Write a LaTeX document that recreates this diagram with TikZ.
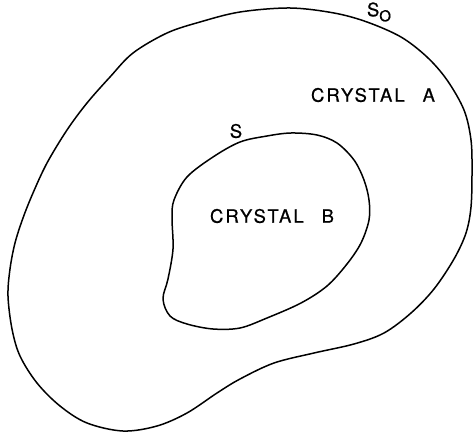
\documentclass[tikz,border=0pt]{standalone}
\usepackage{fontspec}
\setmainfont{TeX Gyre Heros}[LetterSpace=11,WordSpace=2.5,FakeBold=0.6]
\begin{document}
\begin{tikzpicture}[x=1pt,y=-1pt,
  boundary/.style={line width=1.5pt, line join=round},
  lbl/.style={font=\fontsize{18.5}{18.5}\selectfont, inner sep=0pt}]
\useasboundingbox (0,0) rectangle (474,436);
% outer surface S_O
\draw[boundary] plot[smooth cycle, tension=0.55] coordinates {
 (290,8) (334,13) (367,22) (401,37) (427,57) (447,80) (464,110) (471,140)
 (472,172) (471,207) (466,233) (454,259) (434,289) (411,313) (384,333)
 (354,344) (314,353) (274,363) (240,379) (217,393) (187,413) (157,426)
 (123,431) (87,423) (60,406) (37,383) (20,356) (12,329) (8,296) (10,269)
 (15,243) (23,218) (33,193) (47,163) (67,130) (87,103) (110,77) (133,53)
 (167,33) (200,22) (240,12)};
% inner surface S
\draw[boundary] plot[smooth cycle, tension=0.55] coordinates {
 (291,133) (317,135) (337,143) (354,160) (364,180) (369,200) (369,220)
 (361,243) (347,264) (327,286) (301,303) (267,318) (240,328) (213,329)
 (187,324) (170,316) (163,299) (168,279) (173,249) (172,218) (174,200)
 (187,177) (213,157) (240,142) (267,136)};
\node[lbl] (so) at (379,12) {S\raisebox{-5pt}{\fontsize{15}{15}\selectfont O}};
\node[lbl] (s) at (236,131) {S};
\node[lbl] (ca) at (373,95) {CRYSTAL A};
\node[lbl] (cb) at (272,216) {CRYSTAL B};
\end{tikzpicture}
\end{document}
